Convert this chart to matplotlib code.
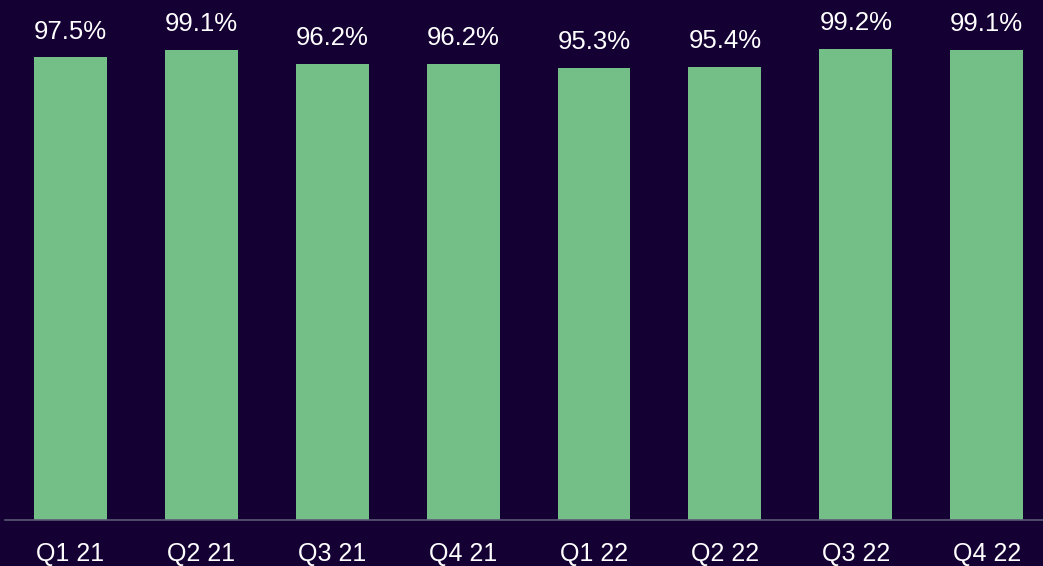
import matplotlib
matplotlib.use("Agg")
import matplotlib.pyplot as plt

categories = ["Q1 21", "Q2 21", "Q3 21", "Q4 21", "Q1 22", "Q2 22", "Q3 22", "Q4 22"]
values = [97.5, 99.1, 96.2, 96.2, 95.3, 95.4, 99.2, 99.1]
labels = ["97.5%", "99.1%", "96.2%", "96.2%", "95.3%", "95.4%", "99.2%", "99.1%"]

bg = "#140032"
green = "#73bf87"

plt.rcParams['font.family'] = ['Liberation Sans', 'DejaVu Sans']

fig = plt.figure(figsize=(10.43, 5.66), dpi=100, facecolor=bg)
ax = fig.add_axes([5/1043, 46/566, 1 - 5/1043, 520/566])
ax.set_facecolor(bg)

x = list(range(len(categories)))
bars = ax.bar(x, values, width=0.557, color=green, zorder=2)
for xi, v, lab in zip(x, values, labels):
    ax.annotate(lab, (xi, v), xytext=(0, 10), textcoords="offset points",
                ha="center", va="bottom", color="white", fontsize=18.5)

ax.set_xlim(-0.5, 7.43)
ax.set_ylim(0, 109.6)
ax.set_xticks(x)
ax.set_xticklabels(categories, color="white", fontsize=18)
ax.tick_params(axis="x", length=0, pad=16)
ax.set_yticks([])
for s in ["top", "right", "left"]:
    ax.spines[s].set_visible(False)
ax.spines["bottom"].set_color("#5c5878")
ax.spines["bottom"].set_linewidth(1.2)

fig.savefig("out.png", dpi=100, facecolor=bg)
